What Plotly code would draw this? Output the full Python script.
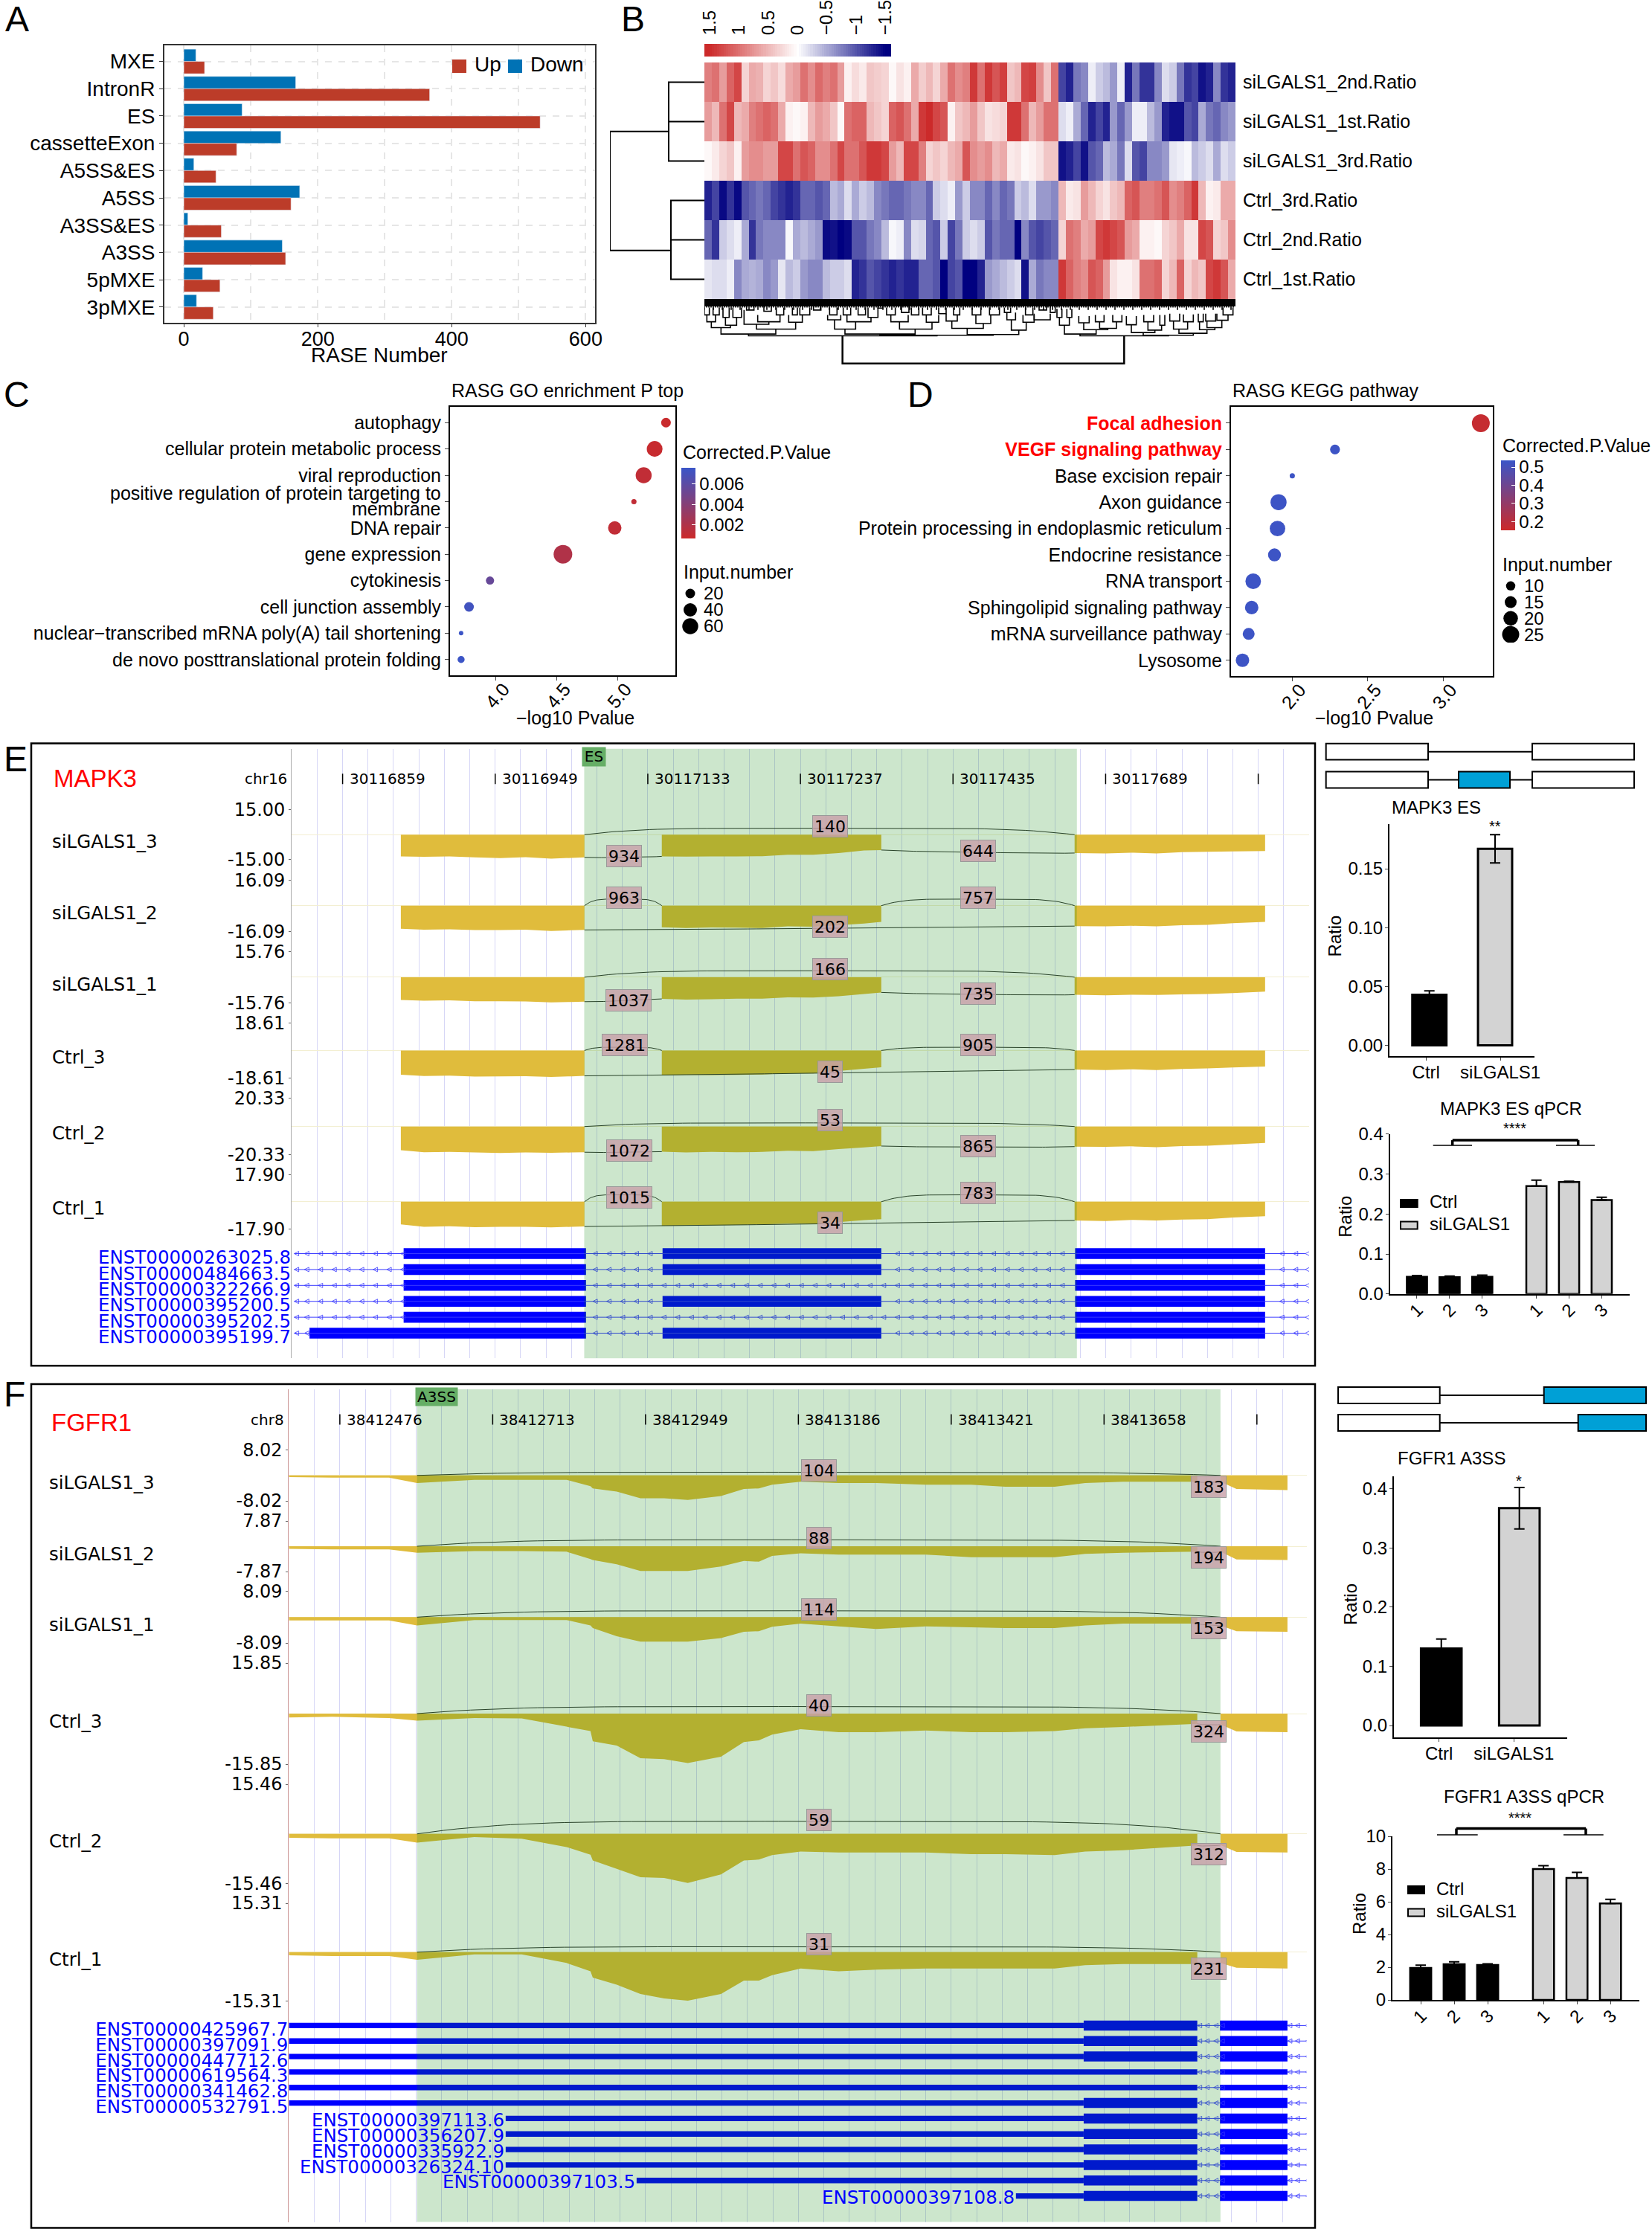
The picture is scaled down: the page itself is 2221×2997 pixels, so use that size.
import numpy as np
import plotly.graph_objects as go

W, H = 2221, 2997
SANS = "Liberation Sans, Arial, sans-serif"
DEJA = "DejaVu Sans, sans-serif"

# ---------- A ----------
RASE_CATS = ["MXE", "IntronR", "ES", "cassetteExon", "A5SS&ES", "A5SS", "A3SS&ES", "A3SS", "5pMXE", "3pMXE"]
RASE_DOWN = [18, 167, 87, 145, 15, 173, 6, 147, 28, 19]
RASE_UP = [31, 367, 532, 79, 48, 160, 56, 152, 54, 44]

# ---------- B ----------
HEAT_ROWS = ["siLGALS1_2nd.Ratio", "siLGALS1_1st.Ratio", "siLGALS1_3rd.Ratio", "Ctrl_3rd.Ratio", "Ctrl_2nd.Ratio", "Ctrl_1st.Ratio"]
HEAT_LEFT = [
    [.9,1.0,.7,1.1,1.3,.3,.6,.55,.3,.4,.25,.6,.7,1.0,.8,1.05,.9,1.0,.7,.1,.25,.15,.4,.35,.3,.05,.2,.1,.6,.35,.5,.3,.6,1.0,.8,.9,1.4,1.0,1.4,1.2,1.35,.4,.5,1.3,1.35,.8,.4,1.0],
    [.7,.5,1.0,1.3,.5,.6,.9,1.0,1.1,1.0,.6,.1,.05,.1,.5,.7,.6,.4,.05,1.0,1.1,1.1,.5,.4,.3,1.1,1.2,1.0,.6,1.4,1.5,1.3,1.2,.1,.4,.5,.7,.4,.2,.25,.3,1.4,1.4,1.0,.5,.7,1.0,1.0],
    [.05,.15,.3,.4,.1,.7,.8,.8,.7,.7,1.3,1.3,1.0,1.2,1.1,.8,.8,1.0,1.3,1.0,1.0,1.2,1.4,1.4,1.3,.7,.5,1.3,1.3,.9,.3,.4,.3,.5,.6,1.2,.8,.7,.8,.5,.6,.15,.2,.05,.1,.2,.4,.4],
    [-1.3,-1.1,-1.45,-1.2,-1.45,-1.0,-.9,-.8,-.9,-1.1,-1.2,-1.3,-1.2,-.9,-.9,-1.0,-.9,-.4,-.5,-.2,-.5,-.3,-.4,-.7,-.8,-.9,-.9,-.8,-.7,-.7,-.9,-.3,-.2,-.1,-.6,-.3,-.7,-.7,-.9,-.7,-.9,-.8,-.3,-.4,-.2,-.6,-.6,-.7],
    [-.9,-1.2,-.3,-.2,-.1,-.5,-1.2,-.8,-.7,-.7,-.7,-.05,-.5,-.4,-.5,-.6,-1.45,-1.4,-1.5,-1.45,-1.0,-1.0,-.8,-.7,-.4,-.05,-.1,-.7,-.2,-.25,-.9,-1.0,-.3,-1.1,-.8,-.3,-.2,-.3,-1.0,-.8,-.9,-.9,-1.5,-.7,-1.0,-1.1,-1.0,-.9],
    [-.15,-.2,-.2,-.1,-.7,-.5,-.45,-.5,-.7,-.6,-.15,-.4,-.3,-.6,-.7,-.7,-.4,-.3,-.3,-.2,-1.3,-1.2,-1.0,-1.1,-1.2,-1.3,-1.2,-1.3,-1.3,-.9,-.9,-1.0,-1.5,-1.1,-1.0,-1.5,-1.5,-1.3,-.6,-.5,-.4,-.3,-.2,-1.4,-.5,-.8,-.7,-.7],
]
HEAT_RIGHT = [
    [-1.1,-1.3,-.8,-.7,-.1,-.3,-.4,-.6,-.1,-1.3,-.8,-1.2,-1.2,-.7,-.2,-.3,-.8,-1.2,-1.1,-1.4,-1.3,-.7,-1.2,-1.3],
    [-.2,-.1,-.5,-.9,-1.3,-1.1,-1.3,-.6,-.9,-.6,-.1,-.1,-.4,-.6,-1.3,-1.4,-1.4,-1.0,-1.1,-.5,-.8,-.9,-.7,-.6],
    [-1.4,-1.3,-1.1,-1.4,-1.0,-.9,-.4,-.5,-.8,-.2,-1.0,-1.1,-.7,-.7,-.6,-.15,-.1,-.05,-.4,-.3,-.2,-.5,-.2,-.3],
    [.5,.15,.2,.7,.5,.3,.2,.4,.5,1.1,1.2,.9,.9,1.0,1.2,.8,.9,1.1,1.4,.5,.1,.15,.6,.6],
    [.3,1.0,.9,.6,.7,1.3,1.4,1.3,1.2,.7,.6,.1,.1,.05,.3,.4,.6,.2,.2,1.3,1.2,.3,.4,.8],
    [1.4,1.1,.9,.8,1.2,1.1,.7,.2,.1,.1,.2,1.0,1.0,1.1,.3,.5,1.1,.3,.5,.4,1.3,1.4,1.2,.6],
]
HEAT_TICKS = [1.5, 1, 0.5, 0, -0.5, -1, -1.5]
HEAT_TICKTEXT = ["1.5", "1", "0.5", "0", "\u22120.5", "\u22121", "\u22121.5"]
# column dendrogram merges: left, right, merge level, left child level, right child level
DEND_LEFT = [(178,938,1105,1098,1103),(67,288,1098,1072,1078),(708,1165,1103,1098,1100),(567,850,1098,1078,1078),(1060,1268,1100,1075,1082),
    (28,105,1072,1048,1062),(210,368,1078,1058,1050),(160,260,1058,1000,1048),(340,395,1050,1020,1020),(525,610,1078,1040,1048),(787,918,1078,1048,1050),
    (998,1125,1075,1045,1055),(1238,1298,1082,1040,1050),(10,45,1048,1020,1020),(85,130,1062,1030,1030),(215,305,1048,1020,1020),(497,550,1040,1020,1020),
    (575,672,1048,1020,1030),(752,822,1048,1020,1020),(895,945,1050,1020,1020),(975,1020,1045,1015,1020),(1095,1155,1055,1020,1020),(1220,1255,1040,1010,1010),
    (1285,1330,1050,1020,1020),(1330,1395,1040,1015,1015),(170,200,1000,985,985),(240,270,1005,985,985),(290,320,1020,990,990),(355,375,1020,990,990),
    (385,425,1020,990,990),(440,470,1000,985,985),(505,535,1020,990,990),(560,590,1020,990,990),(620,650,1020,990,990),(660,700,1030,990,990),(700,720,992,985,985),
    (735,770,1020,990,990),(795,825,1010,985,985),(835,865,1020,990,990),(880,915,1020,990,990),(945,975,1015,990,990),(1005,1030,1020,990,990),(1080,1115,1020,990,990),
    (1150,1190,1020,990,990),(1210,1235,1010,990,990),(1295,1325,1020,990,990),(1350,1380,1000,985,985),(1395,1415,1010,985,985),(0,20,1020,990,990),(35,60,1020,990,990),(75,100,1030,990,990),(115,150,1030,990,990)]
DEND_RIGHT = [(93,450,1105,1098,1103),(30,158,1098,1062,1080),(348,550,1103,1092,1095),(300,395,1092,1060,1082),(492,605,1095,1078,1080),
    (10,50,1062,1030,1030),(108,205,1080,1052,1075),(88,130,1052,1025,1025),(172,240,1075,1048,1048),(155,190,1048,1020,1020),(225,262,1048,1020,1020),(280,320,1060,1025,1025),
    (367,422,1082,1048,1062),(350,390,1048,1020,1020),(415,435,1062,1020,1020),(470,527,1078,1045,1048),(455,495,1045,1015,1015),(510,550,1048,1018,1018),(575,637,1080,1048,1072),
    (570,590,1048,1015,1015),(605,665,1072,1045,1042),(600,640,1045,1015,1015),(645,690,1042,1015,1020),(670,710,1020,990,990),(0,20,1030,995,995),(40,60,1030,995,995)]
DEND_ROOT = (557, 1693, 1218, 1105, 1105)
RIGHT_BLOCK_START = 1422
# row dendrogram: merge distance, first row, last row, row position of the joining branch
ROW_DEND = [(79,0,2,1.25),(82,3,5,4.27)]
ROW_ROOT = (0, 1.25, 4.27)

# ---------- C ----------
GO_TERMS = ["autophagy","cellular protein metabolic process","viral reproduction","positive regulation of protein targeting to membrane","DNA repair","gene expression","cytokinesis","cell junction assembly","nuclear\u2212transcribed mRNA poly(A) tail shortening","de novo posttranslational protein folding"]
GO_LOGP = [5.393,5.30,5.21,5.13,4.973,4.548,3.95,3.778,3.713,3.713]
GO_PADJ = [.0008,.0009,.0012,.0012,.0012,.002,.0055,.0072,.0075,.0075]
GO_INPUT = [20,58,60,5,40,70,15,20,4,10]
GO_SIZE_LEGEND = [20,40,60]

# ---------- D ----------
KEGG_TERMS = ["Focal adhesion","VEGF signaling pathway","Base excision repair","Axon guidance","Protein processing in endoplasmic reticulum","Endocrine resistance","RNA transport","Sphingolipid signaling pathway","mRNA surveillance pathway","Lysosome"]
KEGG_LOGP = [3.249,2.283,2.0,1.909,1.902,1.882,1.741,1.731,1.711,1.67]
KEGG_PADJ = [.17,.53,.53,.53,.53,.53,.53,.53,.53,.53]
KEGG_INPUT = [27,11,5,23,22,17,22,18,15,18]
KEGG_SIZE_LEGEND = [10,15,20,25]

# ---------- E tracks ----------
E_TRACKS = ["siLGALS1_3","siLGALS1_2","siLGALS1_1","Ctrl_3","Ctrl_2","Ctrl_1"]
E_YMAX = [15.00,16.09,15.76,18.61,20.33,17.90]
E_TICKS = ["30116859","30116949","30117133","30117237","30117435","30117689",""]
E_X1 = [4.29,5.2,6.2,7.2,8.2,9.2,10.2,11.0,11.51]
E_X2 = [14.55,15.5,16.5,17.5,18.5,19.5,20.5,21.5,22.5,23.18]
E_X3 = [30.78,32,33,34,35,36,37,38.27]
E_D1 = [[13.0,13.3,13.0,13.6,14.0,13.5,14.4,13.9,13.6],[14.5,15.0,14.8,15.3,15.3,15.0,15.9,15.4,15.2],[14.0,14.5,14.3,14.8,14.9,15,15.6,15.3,15.1],[16.5,17.4,17.2,17.8,17.6,17.5,18,17.6,17.3],[17,18.4,18.2,18.6,19,18.6,18.8,18.6,18.4],[15,16.6,16.2,16.8,16.6,16.6,17,16.6,16.4]]
E_D2 = [[13,13.2,13,13,12.9,12,12,11,9.5,9.2],[13.5,14,13.6,13.8,14,13,13.2,12.2,11.2,10.2],[13.4,13.8,13.6,13.2,13.2,12.4,12.6,11.8,10.4,9.4],[17.0,16.6,16.8,16.6,16.4,15.5,15.6,14,12.5,11.5],[18,18.6,18.2,18.4,18.2,17.4,17.6,16.2,15,14],[16,15.8,15.6,15.4,15,14.5,14.6,13.5,12.2,11.6]]
E_D3 = [[11.0,11.2,10.8,11.2,10.5,10.3,10,9.8],[12.8,13,12.6,13,12.2,12,11,10.2],[10.8,11.2,10.8,11,10.6,10.4,9.8,8.9],[13,13.4,12.8,13.4,12.6,12.2,11.6,11],[14.4,14.6,14.2,14.8,14,13.8,12.8,11.8],[12.4,12.8,12,12.4,11.8,11.6,10.4,9.6]]
E_ARC_PEAK = [3.9,4.1,4.0,2.2,2.6,4.6]
E_SIDES_UP = [False,True,False,True,False,True]
E_JUNC = [[140,934,644],[202,963,757],[166,1037,735],[45,1281,905],[53,1072,865],[34,1015,783]]
E_JUNC_XPOS = [[21.16,13.06,26.98],[21.16,13.06,26.98],[21.16,13.24,26.98],[21.16,13.09,26.98],[21.16,13.27,26.98],[21.16,13.27,26.98]]
E_JUNC_YPX = [[1112.8,1152.8,1146],[1249,1209.4,1209.4],[1306.7,1350,1340.6],[1447,1410.6,1410.6],[1513,1554,1548],[1652,1618,1612]]
E_TRANSCRIPTS = ["ENST00000263025.8","ENST00000484663.5","ENST00000322266.9","ENST00000395200.5","ENST00000395202.5","ENST00000395199.7"]
E_EXON_A = [(4.40,11.57)]*5 + [(0.70,11.57)]
E_HAS_B = [True,True,False,True,False,True]
E_EXON_B = (14.58,23.18)
E_EXON_C = (30.80,38.27)

# ---------- E bars ----------
ES_LABELS = ["Ctrl","siLGALS1"]
ES_RATIO = [0.043,0.167]
ES_ERR_UP = [0.0033,0.012]
ES_ERR_DN = [0,0.012]
ES_QPCR = [0.043,0.042,0.043,0.27,0.28,0.235]
ES_QPCR_ERR = [0.003,0.003,0.004,0.015,0.002,0.007]

# ---------- F tracks ----------
F_TRACKS = ["siLGALS1_3","siLGALS1_2","siLGALS1_1","Ctrl_3","Ctrl_2","Ctrl_1"]
F_YMAX = [8.02,7.87,8.09,15.85,15.46,15.31]
F_TICKS = ["38412476","38412713","38412949","38413186","38413421","38413658",""]
F_X = [0,1.7,3.93,5.03,7.28,9.14,10.9,11.84,11.93,12.87,13.8,14.73,15.66,16.96,17.86,18.45,18.97,20.09,21.58,23.07,25,26.78,28.13,30.06,31.26,32.75,35.66]
F_X2 = [36.57,37.2,39.2]
F_D = [
    [.5,.7,.7,2.4,1.4,1.4,1.4,3.4,4.1,5.1,7.2,7.2,7.7,6.5,4.3,4.1,2.9,2.0,2.4,2.4,2.9,2.9,3.6,3.6,2.4,2.0,2.0],
    [.8,1.0,1.0,2.0,1.5,1.5,1.7,4.0,4.3,5.6,7.7,7.7,7.7,6.3,4.6,4.8,3.0,2.2,2.6,2.6,2.6,3.4,3.4,3.4,2.4,2.0,1.7],
    [1.0,1.0,1.0,2.6,.9,.9,.9,2.6,3.4,6,7.7,7.7,7.7,6.6,4.6,4.4,3,2,2.9,3.7,2.9,3.2,3.4,3.4,2.6,2,2],
    [1.2,1.0,1.4,2.2,1.4,1.5,4.1,5.5,8.7,10,14,14.3,15.5,13.5,8.9,8.4,6.6,4.9,5.8,5.8,5.3,5.8,5.8,5.5,4.6,4.2,3.2],
    [1.2,1.4,1.4,2.7,1.0,1.5,4.1,6.5,8.3,10.9,13.5,13.7,15.3,12.6,8.3,8.0,6.6,5.5,5.8,5.8,5.8,6.3,6.3,6.6,5.5,5.1,3.6],
    [1.0,1.2,1.2,2.4,.7,.7,3.4,6,8,10.2,13.1,14.5,15.2,13.1,8.9,8.9,7.2,5.1,6,5.5,5.1,5.1,5.1,5.1,4.1,3.7,3.7],
]
F_D2 = [[2.0,4.3,4.6],[1.7,4.1,4.3],[2.6,4.4,4.6],[3.4,5.6,5.8],[3.5,5.6,5.8],[3.4,4.9,5.1]]
F_ARC_PEAK = [1.0,2.0,2.0,2.2,3.9,1.7]
F_JUNC = [[104,183],[88,194],[114,153],[40,324],[59,312],[31,231]]
F_JUNC_YPX = [[1977.3,1999],[2068,2093.6],[2163.8,2188.7],[2292.6,2328],[2447,2493],[2613.7,2646.6]]
F_TRANSCRIPTS = ["ENST00000425967.7","ENST00000397091.9","ENST00000447712.6","ENST00000619564.3","ENST00000341462.8","ENST00000532791.5","ENST00000397113.6","ENST00000356207.9","ENST00000335922.9","ENST00000326324.10","ENST00000397103.5","ENST00000397108.8"]
F_TX_START = [0,0,0,0,0,0,8.51,8.51,8.51,8.51,13.65,28.54]
F_TX_CODING = [True,True,True,False,False,True,True,True,True,True,True,True]

# ---------- F bars ----------
A3_RATIO = [0.13,0.367]
A3_ERR_UP = [0.016,0.035]
A3_ERR_DN = [0,0.035]
A3_QPCR = [1.95,2.18,2.14,8.0,7.45,5.9]
A3_QPCR_ERR = [0.18,0.15,0.06,0.2,0.35,0.25]
QPCR_TICKS = ["1","2","3","1","2","3"]

# ================= helpers =================
BASE = dict(showgrid=False, zeroline=False, showticklabels=False, ticks="", showline=False, fixedrange=True)
layout = dict(width=W, height=H, autosize=False, margin=dict(l=0, r=0, t=0, b=0, pad=0, autoexpand=False), showlegend=False,
              paper_bgcolor="white", plot_bgcolor="rgba(0,0,0,0)", barmode="group", bargap=0.1, bargroupgap=0,
              font=dict(family=SANS, color="black"), annotations=[], shapes=[])
traces = []
xn = [1]
yn = [1]

def dom_x(a, b): return [a / W, b / W]
def dom_y(top, bottom): return [1 - bottom / H, 1 - top / H]

def ey(v):
    """page position in the MAPK3 row, taken from its crop"""
    return 990 + (v - 990) * 0.98738

def add_x(box, **cfg):
    xn[0] += 1
    layout[f"xaxis{xn[0]}"] = {**BASE, "domain": dom_x(*box), **cfg}
    return f"x{xn[0]}"

def add_y(box, **cfg):
    yn[0] += 1
    layout[f"yaxis{yn[0]}"] = {**BASE, "domain": dom_y(*box), **cfg}
    return f"y{yn[0]}"

def pair(xbox, ybox, xc, yc):
    x = add_x(xbox, anchor=f"y{yn[0]+1}", **xc)
    y = add_y(ybox, anchor=x, **yc)
    return x, y

def note(text, x, y, size=24, color="black", xanchor="center", yanchor="middle", font=SANS, angle=0, xref="paper", yref="paper", **kw):
    layout["annotations"].append(dict(text=text, x=(x / W if xref == "paper" else x), y=(1 - y / H if yref == "paper" else y),
        xref=xref, yref=yref, showarrow=False, xanchor=xanchor, yanchor=yanchor, textangle=angle,
        font=dict(size=size, color=color, family=font), **kw))

def rect(x0, y0, x1, y1, fill="rgba(0,0,0,0)", line="black", lw=2):
    layout["shapes"].append(dict(type="rect", xref="paper", yref="paper", x0=x0 / W, x1=x1 / W, y0=1 - y0 / H, y1=1 - y1 / H,
        fillcolor=fill, line=dict(color=line, width=lw)))

def seg(x0, y0, x1, y1, lw=2, color="black"):
    layout["shapes"].append(dict(type="line", xref="paper", yref="paper", x0=x0 / W, x1=x1 / W, y0=1 - y0 / H, y1=1 - y1 / H,
        line=dict(color=color, width=lw)))

# panel letters
for t, x, y in [("A", 5, 25), ("B", 833, 25), ("C", 3, 530), ("D", 1218, 530), ("E", 3, 1020), ("F", 3, 1874)]:
    note(t, x, y, size=48, xanchor="left")

# ================= A =================
FRAME = dict(showline=True, mirror=True, linecolor="#333333", linewidth=2)
xa, ya = pair((221, 800), (61, 434),
    dict(range=[-29, 614], tickmode="array", tickvals=[0, 200, 400, 600], showticklabels=True, ticks="outside", ticklen=4, tickcolor="#333333",
         tickfont=dict(size=27), ticklabelstandoff=-7, showgrid=True, griddash="dash", gridcolor="#E6E6E6", gridwidth=1.5,
         minor=dict(tick0=100, dtick=200, showgrid=True, griddash="dash", gridcolor="#E6E6E6", gridwidth=1.5, ticks=""), **FRAME),
    dict(type="category", categoryorder="array", categoryarray=RASE_CATS, range=[9.58, -0.59], showticklabels=True, ticks="outside", ticklen=5,
         tickcolor="#333333", tickfont=dict(size=28), showgrid=True, griddash="dash", gridcolor="#E6E6E6", gridwidth=1.5, **FRAME))
traces.append(go.Bar(y=RASE_CATS, x=RASE_DOWN, orientation="h", name="Down", marker=dict(color="#0072B5"), xaxis=xa, yaxis=ya))
traces.append(go.Bar(y=RASE_CATS, x=RASE_UP, orientation="h", name="Up", marker=dict(color="#BC3C29"), xaxis=xa, yaxis=ya))
note("RASE Number", 510, 478, size=28)
rect(608, 80, 627, 98, fill="#BC3C29", line="#BC3C29", lw=0)
rect(683, 80, 702, 98, fill="#0072B5", line="#0072B5", lw=0)
note("Up", 636, 86, size=28, xanchor="left")
note("Down", 711, 86, size=28, xanchor="left")

# ================= B =================
HEAT_SCALE = [[0, "#000080"], [0.5, "#FFFFFF"], [1, "#CC2A2A"]]
xh, yh = pair((947, 1661), (84, 402),
    dict(range=[-0.5, 71.5]),
    dict(range=[5.5, -0.5], showticklabels=True, side="right", tickmode="array", tickvals=list(range(6)), ticktext=HEAT_ROWS,
         tickfont=dict(size=25), ticklabelstandoff=9))
heat_z = [l + r for l, r in zip(HEAT_LEFT, HEAT_RIGHT)]
traces.append(go.Heatmap(z=heat_z, zmin=-1.5, zmax=1.5, colorscale=HEAT_SCALE, showscale=False, xaxis=xh, yaxis=yh))

xc, yc = pair((947, 1198), (59, 76),
    dict(range=[1.59, -1.6], side="top", showticklabels=True, tickmode="array", tickvals=HEAT_TICKS, ticktext=HEAT_TICKTEXT, tickangle=-90,
         tickfont=dict(size=24), ticklen=6, ticks="outside", tickcolor="white"),
    dict(range=[-0.5, 0.5]))
bar_x = np.arange(1.6, -1.61, -0.04)
traces.append(go.Heatmap(z=[list(bar_x)], x=list(bar_x), zmin=-1.5, zmax=1.5, colorscale=HEAT_SCALE, showscale=False, xaxis=xc, yaxis=yc))

# row dendrogram
xr, yr = pair((820, 947), (84, 402), dict(range=[0, 127]), dict(range=[5.5, -0.5]))
rx, ry = [], []
for d, r0, r1, mid in ROW_DEND:
    rx += [127, d, d, 127, None, d, 127, None, ROW_ROOT[0], d, None]
    ry += [r0, r0, r1, r1, None, (r0 + r1) / 2, (r0 + r1) / 2, None, mid, mid, None]
rx += [ROW_ROOT[0], ROW_ROOT[0]]
ry += [ROW_ROOT[1], ROW_ROOT[2]]
traces.append(go.Scatter(x=rx, y=ry, mode="lines", line=dict(color="black", width=2, simplify=False), xaxis=xr, yaxis=yr, hoverinfo="skip", cliponaxis=False))

# column dendrogram
xd, yd = pair((947, 1661), (402, 490), dict(range=[0, 2142]), dict(range=[1222, 955]))
dx, dy = [], []
merges = list(DEND_LEFT) + [(a + RIGHT_BLOCK_START, b + RIGHT_BLOCK_START, c, e, f) for a, b, c, e, f in DEND_RIGHT]
for a, b, c, e, f in merges:
    dx += [a, a, b, b, None]
    dy += [e, c, c, f, None]
for v in np.arange(0, 2142, 9):
    dx += [float(v), float(v), None]
    dy += [955, 1000 if int(v) % 4 == 0 else 990, None]
traces.append(go.Scatter(x=dx, y=dy, mode="lines", line=dict(color="black", width=1.6, simplify=False), xaxis=xd, yaxis=yd, hoverinfo="skip"))
traces.append(go.Scatter(x=[DEND_ROOT[0], DEND_ROOT[0], DEND_ROOT[1], DEND_ROOT[1]], y=[DEND_ROOT[3], DEND_ROOT[2], DEND_ROOT[2], DEND_ROOT[4]],
    mode="lines", line=dict(color="black", width=2.5, simplify=False), xaxis=xd, yaxis=yd, hoverinfo="skip"))
layout["shapes"].append(dict(type="rect", xref=xd, yref=yd, x0=0, x1=2142, y0=955, y1=985, fillcolor="black", line=dict(width=0)))

# ================= C / D =================
LOW_RED, HIGH_BLUE = "#CC2A2A", "#3A55C8"
BOX = dict(showline=True, mirror=True, linecolor="black", linewidth=2)

def bubble_axes(xbox, ybox, xr_, yr_, ticks, ticktext, labels):
    return pair(xbox, ybox,
        dict(range=xr_, tickmode="array", tickvals=ticks, ticktext=ticktext, showticklabels=True, ticks="outside", ticklen=5, tickangle=-50,
             tickfont=dict(size=25), ticklabelshift=10, ticklabelstandoff=-13, **BOX),
        dict(range=yr_, tickmode="array", tickvals=list(range(len(labels))), ticktext=labels, showticklabels=True, ticks="outside", ticklen=5,
             tickfont=dict(size=25), **BOX))

def go_size(v): return np.interp(v, [4, 5, 10, 15, 20, 40, 60, 70], [6, 7, 9.5, 11, 13, 18, 21.5, 25])
def kegg_size(v): return np.interp(v, [5, 10, 15, 20, 25, 27], [7, 12.5, 16, 19.5, 23, 24])

go_labels = list(GO_TERMS)
go_labels[3] = ""
x1, y1 = bubble_axes((605, 908), (547, 908), [3.622, 5.47], [9.6, -0.6], [4, 4.5, 5], ["4.0", "4.5", "5.0"], go_labels)
traces.append(go.Scatter(x=GO_LOGP, y=list(range(10)), mode="markers", xaxis=x1, yaxis=y1, hoverinfo="skip",
    marker=dict(size=go_size(GO_INPUT), opacity=1, color=GO_PADJ, cmin=0.00067, cmax=0.00758, colorscale=[[0, LOW_RED], [1, HIGH_BLUE]], line=dict(width=0),
        colorbar=dict(x=916 / W, xanchor="left", xpad=0, y=1 - 629 / H, yanchor="top", ypad=0, len=95 / H, lenmode="fraction", thickness=18.5,
            outlinewidth=0, ticks="inside", tickcolor="white", ticklen=5, tickvals=[0.002, 0.004, 0.006], ticktext=["0.002", "0.004", "0.006"], tickfont=dict(size=24)))))
first, second = GO_TERMS[3].rsplit(" ", 1)
note(first, 595, 663, size=25, xanchor="right")
note(second, 595, 684, size=25, xanchor="right")
note("RASG GO enrichment P top", 605, 525, size=25, xanchor="left")
note("\u2212log10 Pvalue", 773, 965, size=25)
note("Corrected.P.Value", 916, 608, size=25, xanchor="left")
note("Input.number", 917, 769, size=25, xanchor="left")

def size_legend(xbox, ybox, values, size_fn):
    labels = [str(v) for v in values]
    x, y = pair(xbox, ybox, dict(range=[0, 1]),
        dict(type="category", categoryorder="array", categoryarray=labels, range=[len(values) - 0.5, -0.5], side="right",
             tickmode="array", tickvals=labels, ticktext=labels, showticklabels=True, tickfont=dict(size=24), ticklabelstandoff=5))
    traces.append(go.Scatter(x=[0.5] * len(values), y=labels, mode="markers", xaxis=x, yaxis=y, hoverinfo="skip",
        marker=dict(size=size_fn(values), opacity=1, color="black", line=dict(width=0))))

size_legend((916, 940), (787, 853), GO_SIZE_LEGEND, go_size)

kegg_labels = [f'<b><span style="color:red">{t}</span></b>' if i < 2 else t for i, t in enumerate(KEGG_TERMS)]
x2, y2 = bubble_axes((1655, 2006.5), (547, 909), [1.594, 3.326], [9.6, -0.62], [2, 2.5, 3], ["2.0", "2.5", "3.0"], kegg_labels)
traces.append(go.Scatter(x=KEGG_LOGP, y=list(range(10)), mode="markers", xaxis=x2, yaxis=y2, hoverinfo="skip",
    marker=dict(size=kegg_size(KEGG_INPUT), opacity=1, color=KEGG_PADJ, cmin=0.152, cmax=0.537, colorscale=[[0, LOW_RED], [1, HIGH_BLUE]], line=dict(width=0),
        colorbar=dict(x=2018 / W, xanchor="left", xpad=0, y=1 - 619 / H, yanchor="top", ypad=0, len=94 / H, lenmode="fraction", thickness=19,
            outlinewidth=0, ticks="inside", tickcolor="white", ticklen=5, tickvals=[0.2, 0.3, 0.4, 0.5], ticktext=["0.2", "0.3", "0.4", "0.5"], tickfont=dict(size=24)))))
note("RASG KEGG pathway", 1655, 525, size=25, xanchor="left")
note("\u2212log10 Pvalue", 1847, 965, size=25)
note("Corrected.P.Value", 2018, 599, size=25, xanchor="left")
note("Input.number", 2018, 759, size=25, xanchor="left")
size_legend((2019, 2043), (777, 864), KEGG_SIZE_LEGEND, kegg_size)

# ================= browser tracks =================
GREEN = "rgba(0,128,0,0.20)"
YELLOW = "#E0BC3C"
BLUE = "#0000FF"
ARROW = dict(symbol="arrow-left-open", size=6, color="#3A3AFF", line=dict(width=0.8, color="#3A3AFF"))

def curve(x0, x1, y0, y1, h):
    t = np.linspace(0, 1, 61)
    bump = 1 - (1 - np.sin(np.pi * t)) ** 3
    return list(x0 + (x1 - x0) * t) + [None], list(y0 + (y1 - y0) * t + h * bump) + [None]

def polygon(xs, depths):
    return list(xs) + [xs[-1], xs[0], None], [-d for d in depths] + [0, 0, None]

def label_box(text, x, ypx, xref):
    note(str(text), x, ypx, size=22, font=DEJA, xref=xref, bgcolor="rgba(200,160,170,0.82)", bordercolor="#999999", borderwidth=1, borderpad=2, height=24)

def browser(left, right, top, bottom, xunits, gene, gene_xy, chrom, chrom_xy, ticks, tick_units, tick_y, green, tag, tag_box, axis_color):
    grid_x, grid_y = pair((left, right), (top, bottom),
        dict(range=[0, xunits], showgrid=True, dtick=1, tick0=0, gridcolor="#D6D6F6", gridwidth=1),
        dict(range=[0, 1], showline=True, linecolor=axis_color, linewidth=1))
    traces.append(go.Scatter(x=[0], y=[0], mode="markers", marker=dict(size=1, color="rgba(0,0,0,0)"), xaxis=grid_x, yaxis=grid_y, hoverinfo="skip"))
    layout["shapes"].append(dict(type="rect", xref=grid_x, yref="paper", x0=green[0], x1=green[1], y0=1 - bottom / H, y1=1 - top / H,
        fillcolor=GREEN, line=dict(width=0), layer="above"))
    for t, u in zip(ticks, tick_units):
        layout["shapes"].append(dict(type="line", xref=grid_x, yref="paper", x0=u, x1=u, y0=1 - (tick_y + 7) / H, y1=1 - (tick_y - 7) / H, line=dict(color="black", width=1.5)))
        if t:
            note(t, u, tick_y, size=20, font=DEJA, xanchor="left", xref=grid_x, xshift=7)
    note(gene, gene_xy[0], gene_xy[1], size=33, color="red", xanchor="left")
    note(chrom, chrom_xy[0], chrom_xy[1], size=20, font=DEJA, xanchor="right")
    note(tag, (tag_box[0] + tag_box[1]) / 2, (tag_box[2] + tag_box[3]) / 2, size=20, font=DEJA, bgcolor="#66AE66", width=tag_box[1] - tag_box[0], height=tag_box[3] - tag_box[2], borderpad=0)
    return grid_x

def track_axis(shared_x, ytop, ybottom, ymax):
    return add_y((ytop, ybottom), anchor=shared_x, range=[-ymax, ymax], tickmode="array", tickvals=[ymax, -ymax],
        ticktext=[f"{ymax:.2f}", f"{-ymax:.2f}"], showticklabels=True, ticks="outside", ticklen=3, tickcolor="#666666",
        tickfont=dict(size=24, family=DEJA), zeroline=True, zerolinecolor="#F3EFD2", zerolinewidth=1)

def transcript_axis(shared_x, top, bottom, n, ticks, labels):
    return add_y((top, bottom), anchor=shared_x, range=[n - 0.5, -0.5], tickmode="array", tickvals=ticks, ticktext=labels,
        showticklabels=True, tickfont=dict(size=24.5, color=BLUE, family=DEJA), ticklabelshift=-5)

# ---- E ----
rect(42, ey(999.5), 1768, ey(1847), lw=2.5)
browser(392.2, 1760, ey(1007), ey(1837), 40, "MAPK3", (70, ey(1047)), "chr16", (388, ey(1048)), E_TICKS, [2, 8, 14, 20, 26, 32, 38], ey(1048),
        (11.5, 30.87), "ES", (783, 814, ey(1005), ey(1030)), "#AAAAAA")
first_track_y = yn[0] + 1
xE = add_x((392.2, 1760), range=[0, 40], anchor=f"y{first_track_y}")
E_YPX = [(1090, 1158), (1185.6, 1255.6), (1283.3, 1352.8), (1380.6, 1455), (1482.8, 1560), (1587, 1660.6)]
E_LABEL_Y = [1133, 1230.6, 1328, 1427, 1530.6, 1633]
for i, name in enumerate(E_TRACKS):
    y = track_axis(xE, ey(E_YPX[i][0]), ey(E_YPX[i][1]), E_YMAX[i])
    px, py = [], []
    for xs, ds in ((E_X1, E_D1[i]), (E_X2, E_D2[i]), (E_X3, E_D3[i])):
        a, b = polygon(xs, ds); px += a; py += b
    traces.append(go.Scatter(x=px, y=py, mode="none", fill="toself", fillcolor=YELLOW, xaxis=xE, yaxis=y, hoverinfo="skip"))
    peak = E_ARC_PEAK[i]
    e1, e2a, e2b, e3 = -E_D1[i][-1], -E_D2[i][0], -E_D2[i][-1], -E_D3[i][0]
    if E_SIDES_UP[i]:
        arcs = [curve(E_X1[-1], E_X2[0], 0, 0, peak), curve(E_X2[-1], E_X3[0], 0, 0, peak), curve(E_X1[-1], E_X3[0], e1, e3, -0.2)]
    else:
        arcs = [curve(E_X1[-1], E_X3[0], 0, 0, peak), curve(E_X1[-1], E_X2[0], e1, e2a, -0.3), curve(E_X2[-1], E_X3[0], e2b, e3, -0.5)]
    ax, ay = [], []
    for a, b in arcs:
        ax += a; ay += b
    traces.append(go.Scatter(x=ax, y=ay, mode="lines", line=dict(color="#333333", width=1), xaxis=xE, yaxis=y, hoverinfo="skip"))
    note(name, 68, ey(E_LABEL_Y[i]), size=24.5, font=DEJA, xanchor="left")
    for val, xp, yp in zip(E_JUNC[i], E_JUNC_XPOS[i], E_JUNC_YPX[i]):
        label_box(val, xp, ey(yp), xE)

yTE = transcript_axis(xE, ey(1683.6), ey(1813.6), 6, list(range(6)), E_TRANSCRIPTS)
ix, iy = [], []
rows, bases, lens = [], [], []
for r in range(6):
    blocks = [E_EXON_A[r]] + ([E_EXON_B] if E_HAS_B[r] else []) + [E_EXON_C]
    for a, b in blocks:
        rows.append(r); bases.append(a); lens.append(b - a)
    pts = [float(p) for p in np.arange(0.5, 39.7, 0.54) if not any(a - 0.1 <= p <= b + 0.1 for a, b in blocks)]
    ix += [0.1] + pts + [39.85, None]
    iy += [r] * (len(pts) + 2) + [None]
traces.append(go.Scatter(x=ix, y=iy, mode="lines+markers", xaxis=xE, yaxis=yTE, hoverinfo="skip", line=dict(color="#3A3AFF", width=1), marker=ARROW))
traces.append(go.Bar(y=rows, x=lens, base=bases, orientation="h", width=[0.68] * len(rows), marker=dict(color=BLUE, line=dict(width=0)), xaxis=xE, yaxis=yTE, hoverinfo="skip"))

# ---- F ----
rect(42, 1861, 1768, 2995.5, lw=2.5)
browser(388.4, 1756.6, 1868, 2987.5, 39.95, "FGFR1", (67, 1912), "chr8", (384, 1908.5), F_TICKS, [2, 8, 14, 20, 26, 32, 38], 1908.5,
        (5.03, 36.57), "A3SS", (559, 615, 1866, 1890), "#C89090")
first_track_y = yn[0] + 1
xF = add_x((388.4, 1756.6), range=[0, 39.95], anchor=f"y{first_track_y}")
F_YPX = [(1949.5, 2018), (2045, 2113), (2139.7, 2209), (2236, 2372), (2399, 2532.5), (2559, 2690.5)]
F_LABEL_Y = [1993, 2089, 2184, 2314, 2475, 2634]
for i, name in enumerate(F_TRACKS):
    y = track_axis(xF, F_YPX[i][0], F_YPX[i][1], F_YMAX[i])
    px, py = [], []
    for xs, ds in ((F_X, F_D[i]), (F_X2, F_D2[i])):
        a, b = polygon(xs, ds); px += a; py += b
    traces.append(go.Scatter(x=px, y=py, mode="none", fill="toself", fillcolor=YELLOW, xaxis=xF, yaxis=y, hoverinfo="skip"))
    a1, b1 = curve(F_X[3], F_X2[0], 0, 0, F_ARC_PEAK[i])
    a2, b2 = curve(F_X[-1], F_X2[0], -F_D[i][-1], -F_D2[i][0], -0.2)
    traces.append(go.Scatter(x=a1 + a2, y=b1 + b2, mode="lines", line=dict(color="#333333", width=1), xaxis=xF, yaxis=y, hoverinfo="skip"))
    note(name, 64, F_LABEL_Y[i], size=24.5, font=DEJA, xanchor="left")
    label_box(F_JUNC[i][0], 20.8, F_JUNC_YPX[i][0], xF)
    label_box(F_JUNC[i][1], 36.1, F_JUNC_YPX[i][1], xF)

yTF = transcript_axis(xF, 2713, 2963, 12, list(range(6)), F_TRANSCRIPTS[:6])
for r in range(6, 12):
    note(F_TRANSCRIPTS[r], F_TX_START[r], r + 0.1, xref=xF, yref=yTF, size=24.5, font=DEJA, color=BLUE, xanchor="right")
ix, iy = [], []
for r in range(12):
    pts = [35.66, 35.95, 36.3, 36.55, None, 39.2, 39.5, 39.9, None]
    ix += pts
    iy += [r, r, r, r, None, r, r, r, None]
traces.append(go.Scatter(x=ix, y=iy, mode="lines+markers", xaxis=xF, yaxis=yTF, hoverinfo="skip", line=dict(color="#3A3AFF", width=1), marker=ARROW))
rows, bases, lens, widths = [], [], [], []
for r in range(12):
    s = F_TX_START[r]
    if F_TX_CODING[r]:
        blocks = [(s, 31.2, 0.35), (31.2, 35.66, 0.65), (36.55, 39.2, 0.65)]
    else:
        blocks = [(s, 35.66, 0.35), (36.55, 39.2, 0.35)]
    for a, b, w in blocks:
        rows.append(r); bases.append(a); lens.append(b - a); widths.append(w)
traces.append(go.Bar(y=rows, x=lens, base=bases, orientation="h", width=widths, marker=dict(color=BLUE, line=dict(width=0)), xaxis=xF, yaxis=yTF, hoverinfo="skip"))

# ================= side bar charts =================
def bar_panel(xbox, ybox, xrange_, yrange_, xpos, values, up, down, yticks, yticktext, labels, colors, width, angle=0, lw=3, tickpos=None):
    x, y = pair(xbox, ybox,
        dict(range=xrange_, tickmode="array", tickvals=tickpos or xpos, ticktext=labels, showticklabels=True, ticks="outside", ticklen=4, tickangle=angle,
             tickfont=dict(size=24), showline=True, linecolor="black", linewidth=2, ticklabelshift=(1 if angle else 0), ticklabelstandoff=(-8 if angle else -5)),
        dict(range=yrange_, tickmode="array", tickvals=yticks, ticktext=yticktext, showticklabels=True, ticks="outside", ticklen=4,
             tickfont=dict(size=24), ticklabelstandoff=-2, showline=True, linecolor="black", linewidth=2))
    traces.append(go.Bar(x=xpos, y=values, width=[width] * len(values), xaxis=x, yaxis=y, hoverinfo="skip",
        marker=dict(color=colors, line=dict(color="black", width=lw)),
        error_y=dict(type="data", symmetric=False, array=up, arrayminus=down, color="black", thickness=2, width=7)))

GREY = "#D3D3D3"
SKY = "#00A0D6"

def schematic(lx0, lx1, rx0, rx1, y0, y1, exon=None, fill_right=None):
    rect(lx0, y0, lx1, y1, fill="white")
    rect(rx0, y0, rx1, y1, fill=fill_right or "white")
    if exon:
        seg(lx1, (y0 + y1) / 2, exon[0], (y0 + y1) / 2)
        seg(exon[1], (y0 + y1) / 2, rx0, (y0 + y1) / 2)
        rect(exon[0], y0, exon[1], y1, fill=SKY)
    else:
        seg(lx1, (y0 + y1) / 2, rx0, (y0 + y1) / 2)

def bracket(x0, x1, y0, y1, a0, a1, b0, b1):
    seg(x0, y0, x1, y0, lw=3.5)
    seg(x0, y0, x0, y1, lw=3.5)
    seg(x1, y0, x1, y1, lw=3.5)
    seg(a0, y1, a1, y1, lw=1.5)
    seg(b0, y1, b1, y1, lw=1.5)

def swatches(x0, x1, ys, texts, tx, fills):
    for yy, t, f in zip(ys, texts, fills):
        rect(x0, yy - 5, x1, yy + 5, fill=f, lw=2)
        note(t, tx, yy - 2, size=24, xanchor="left")

# MAPK3 side
schematic(1782.7, 1920, 2060, 2197, ey(1000), ey(1022))
schematic(1782.7, 1920, 2060, 2197, ey(1038), ey(1060.5), exon=(1961, 2030))
note("MAPK3 ES", 1931, ey(1087), size=24)
bar_panel((1868, 2063), (ey(1109.4), ey(1426)), [-0.608, 1.6], [-0.0094, 0.188], [0, 1], ES_RATIO, ES_ERR_UP, ES_ERR_DN,
          [0, 0.05, 0.10, 0.15], ["0.00", "0.05", "0.10", "0.15"], ES_LABELS, ["black", GREY], 0.52, tickpos=[-0.05, 1.08])
note("Ratio", 1795, ey(1262), size=24, angle=-90)
note("**", 2010, ey(1113), size=20)
note("MAPK3 ES qPCR", 2031, ey(1497), size=24)
bar_panel((1868.7, 2190.7), (ey(1531.7), ey(1749.4)), [-0.827, 6.51], [0, 0.4], [0, 1, 2, 3.66, 4.66, 5.66], ES_QPCR, ES_QPCR_ERR, [0] * 6,
          [0, 0.1, 0.2, 0.3, 0.4], ["0.0", "0.1", "0.2", "0.3", "0.4"], QPCR_TICKS, ["black"] * 3 + [GREY] * 3, 0.62, angle=-45, lw=2.5)
note("Ratio", 1809, ey(1644), size=24, angle=-90)
note("****", 2036, ey(1524), size=20)
bracket(1952.7, 2121.7, ey(1540), ey(1547), 1926.7, 1979, 2092, 2144)
swatches(1883, 1905.7, [ey(1626), ey(1656)], ES_LABELS, 1920, ["black", GREY])

# FGFR1 side
schematic(1799, 1935.7, 2075.7, 2213, 1865, 1887, fill_right=SKY)
schematic(1799, 1935.7, 2121.7, 2213, 1902, 1924, fill_right=SKY)
note("FGFR1 A3SS", 1951, 1960, size=24)
bar_panel((1874, 2106.7), (1985, 2336), [-0.607, 1.61], [-0.02, 0.4207], [0, 1], A3_RATIO, A3_ERR_UP, A3_ERR_DN,
          [0, 0.1, 0.2, 0.3, 0.4], ["0.0", "0.1", "0.2", "0.3", "0.4"], ES_LABELS, ["black", GREY], 0.52, tickpos=[-0.03, 0.93])
note("Ratio", 1815, 2157, size=24, angle=-90)
note("*", 2042, 1991, size=20)
note("FGFR1 A3SS qPCR", 2049, 2415, size=24)
bar_panel((1872, 2204), (2469, 2689), [-0.844, 6.53], [0, 10], [0, 1, 2, 3.667, 4.667, 5.667], A3_QPCR, A3_QPCR_ERR, [0] * 6,
          [0, 2, 4, 6, 8, 10], ["0", "2", "4", "6", "8", "10"], QPCR_TICKS, ["black"] * 3 + [GREY] * 3, 0.63, angle=-45, lw=2.5)
note("Ratio", 1827, 2573, size=24, angle=-90)
note("****", 2043, 2444, size=20)
bracket(1958, 2132, 2458.5, 2467, 1932, 1986.7, 2102, 2155.7)
swatches(1893, 1915, [2541, 2571.6], ES_LABELS, 1929, ["black", GREY])

fig = go.Figure(data=traces, layout=layout)
fig.write_html("out.html", post_script="document.body.style.margin='0';", config={"displayModeBar": False})
